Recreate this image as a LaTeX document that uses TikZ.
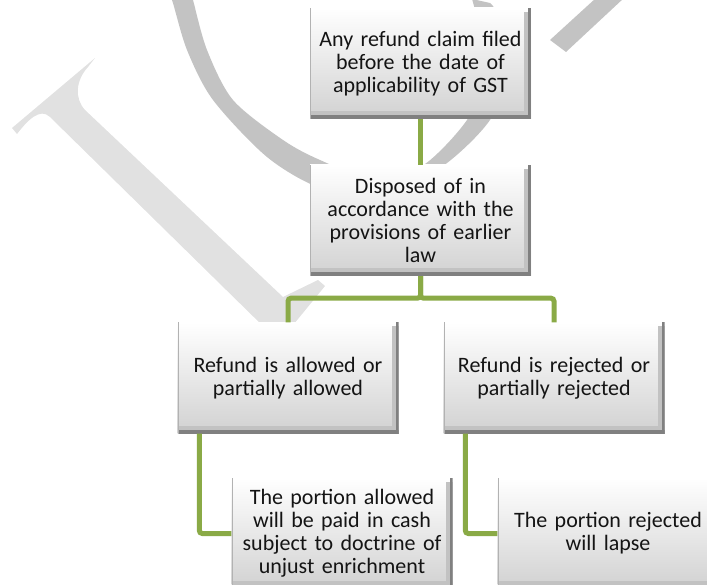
\documentclass[tikz,border=0pt]{standalone}
\usepackage{fontspec}
\setmainfont{Carlito}
\definecolor{linkgreen}{HTML}{8AAA46}
\definecolor{markpale}{HTML}{E1E1E1}
\definecolor{markgrey}{HTML}{C3C3C3}
\tikzset{
  card/.style={rectangle, minimum width=221pt, minimum height=111pt,
    inner sep=0pt, text width=212pt, align=center,
    font=\fontsize{22}{23}\selectfont, text=black!92,
    top color=white, bottom color=black!18,
    path picture={
      % bevel: soft inner strip, dark outer strip on right and bottom
      \fill[black!24] ([xshift=-7pt,yshift=-4pt]path picture bounding box.north east)
        rectangle (path picture bounding box.south east);
      \fill[black!24] (path picture bounding box.south west)
        rectangle ([yshift=8pt]path picture bounding box.south east);
      \fill[black!50] ([xshift=-3pt]path picture bounding box.north east)
        rectangle (path picture bounding box.south east);
      \fill[black!50] (path picture bounding box.south west)
        rectangle ([yshift=4pt]path picture bounding box.south east);
      \fill[black!30] (path picture bounding box.north west)
        rectangle ([xshift=1.2pt]path picture bounding box.south west);
    }},
  link/.style={draw=linkgreen, line width=5pt, rounded corners=3pt},
}
\begin{document}
\begin{tikzpicture}[x=1pt,y=-1pt]
\useasboundingbox (0,0) rectangle (707,585);
\clip (0,0) rectangle (707,585);

% background letters
\fill[markpale] (12,128) -- (95,58) -- (88,67)
  .. controls (76,80) and (74,98) .. (85,110)
  -- (283,297) -- (318,280) -- (325,286) -- (289,330) -- (267,330)
  -- (50,117) .. controls (40,107) and (27,121) .. (17,134) -- cycle;
\fill[markgrey] plot[smooth] coordinates {(166,-10) (172,0) (187,50) (213,100)
    (267,157) (320,188) (380,198) (443,166) (490,120) (508,70) (497,15) (490,3)}
  -- plot[smooth] coordinates {(472,-1) (482,40) (480,80) (467,120) (422,166)
    (370,178) (320,160) (283,140) (233,100) (207,50) (193,0) (190,-10)} -- cycle;
\fill[markgrey] (550,40) -- (566,52) -- (624,-2) -- (596,-2) -- cycle;

% boxes
\node[card] (b1) at (420.5,63.5) {Any refund claim filed\\before the date of\\applicability of GST};
\node[card] (b2) at (420.5,220.5) {Disposed of in\\accordance with the\\provisions of earlier\\law};
\node[card] (b3) at (288,378) {Refund is allowed or\\partially allowed};
\node[card] (b4) at (554,378) {Refund is rejected or\\partially rejected};
\node[card] (b5) at (342,533.5) {The portion allowed\\will be paid in cash\\subject to doctrine of\\unjust enrichment};
\node[card] (b6) at (608,533.5) {The portion rejected\\will lapse};

% connectors
\draw[link] (b1.south) -- (b2.north);
\draw[link] (b2.south) -- ++(0,22) -| (b3.north);
\draw[link] (b2.south) -- ++(0,22) -| (b4.north);
\draw[link] ([xshift=22pt]b3.south west) |- (b5.west);
\draw[link] ([xshift=22pt]b4.south west) |- (b6.west);
\end{tikzpicture}
\end{document}
